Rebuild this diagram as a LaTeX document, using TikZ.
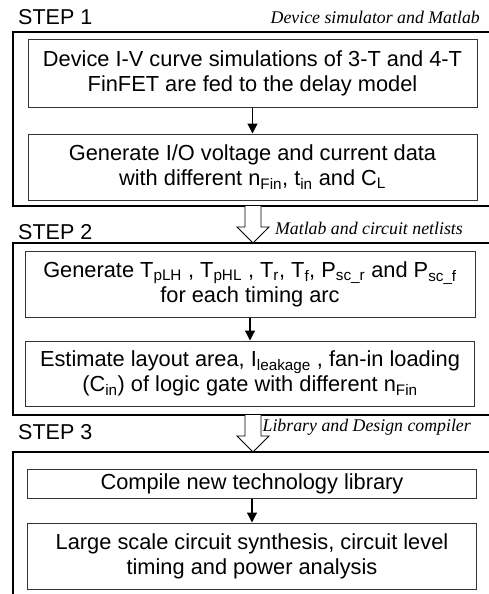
\documentclass[tikz,border=0pt]{standalone}
\usepackage{fontspec}
\setmainfont{Liberation Sans}
\newfontfamily\notefont{Liberation Serif}
\usetikzlibrary{positioning, arrows.meta, calc}

\tikzset{
  stepbox/.style={draw=black!80, line width=1pt, minimum width=449pt,
    minimum height=66pt, align=center, inner sep=0pt,
    font=\fontsize{21.8}{25}\selectfont},
  stepframe/.style={draw, line width=1.6pt},
  flow/.style={-{Triangle[length=10pt,width=10pt]}, line width=1.2pt},
  steplabel/.style={anchor=west, inner sep=0pt, font=\fontsize{21.5}{24}\selectfont},
  toolnote/.style={anchor=east, inner sep=0pt, font=\notefont\itshape\fontsize{17.8}{21}\selectfont},
  bigarrow/.pic={
    \draw[line width=0.9pt, fill=white] (-8,0) -- (-8,21) -- (-16,21)
      -- (0,37) -- (16,21) -- (8,21) -- (8,0);
  }
}

\begin{document}
\begin{tikzpicture}[x=1pt, y=-1pt]
  \useasboundingbox (0,0) rectangle (489,594);
  \clip (0,0) rectangle (489,594);

  % step frames
  \draw[stepframe] (13,32) rectangle (500,206);
  \draw[stepframe] (13,243) rectangle (500,415);
  \draw[stepframe] (13,600) |- (500,452);

  % step 1
  \node[steplabel] (s1) at (18,17) {STEP 1};
  \node[toolnote] (t1) at (480,17) {Device simulator and Matlab};
  \node[stepbox, minimum height=67pt] (curve) at (252.5,73.5)
    {Device I-V curve simulations of 3-T and 4-T\\FinFET are fed to the delay model};
  \node[stepbox, below=26pt of curve] (iodata)
    {Generate I/O voltage and current data\\with different n\textsubscript{Fin}, t\textsubscript{in} and C\textsubscript{L}};
  \draw[flow] (curve) -- (iodata);

  % step 2
  \coordinate (a1) at (253,206);
  \pic at (a1) {bigarrow};
  \node[steplabel] (s2) at (18,232) {STEP 2};
  \node[toolnote] (t2) at (463,228) {Matlab and circuit netlists};
  \node[stepbox, minimum width=450pt] (timing) at (250,284)
    {Generate T\textsubscript{pLH} , T\textsubscript{pHL} , T\textsubscript{r}, T\textsubscript{f}, P\textsubscript{sc\_r} and P\textsubscript{sc\_f}\\for each timing arc};
  \node[stepbox, minimum height=65pt, below=23pt of timing] (area)
    {Estimate layout area, I\textsubscript{leakage} , fan-in loading\\(C\textsubscript{in}) of logic gate with different n\textsubscript{Fin}};
  \draw[flow] (timing) -- (area);

  % step 3
  \coordinate (a2) at (253,415);
  \pic at (a2) {bigarrow};
  \node[steplabel] (s3) at (18,432) {STEP 3};
  \node[toolnote] (t3) at (471,427) {Library and Design compiler};
  \node[stepbox, minimum height=29pt] (lib) at (252,483.5)
    {Compile new technology library};
  \node[stepbox, below=24pt of lib] (synth)
    {Large scale circuit synthesis, circuit level\\timing and power analysis};
  \draw[flow] (lib) -- (synth);
\end{tikzpicture}
\end{document}
